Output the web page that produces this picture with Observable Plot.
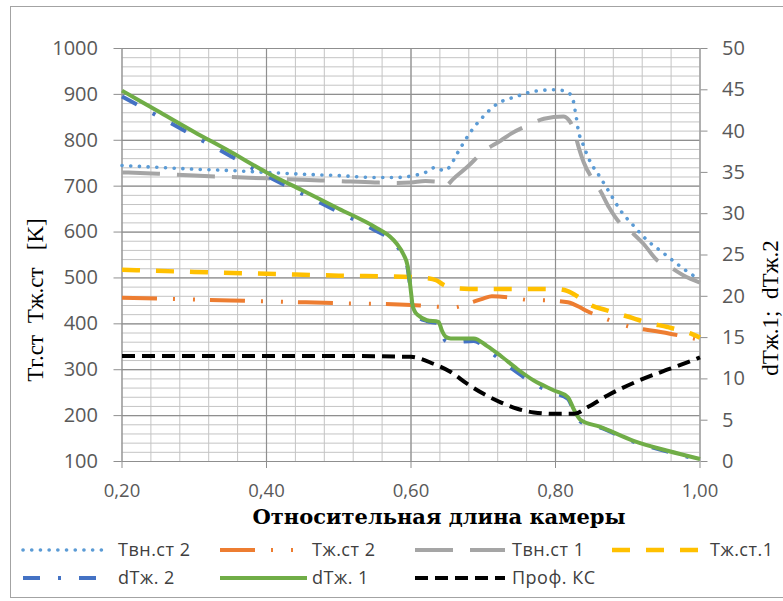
<!DOCTYPE html>
<html><head><meta charset="utf-8">
<script src="https://cdn.jsdelivr.net/npm/d3@7"></script>
<script src="https://cdn.jsdelivr.net/npm/@observablehq/plot@0.6"></script>
<style>
body{margin:0;background:#fff;overflow:hidden;width:783px;height:601px;position:relative;font-family:"Open Sans",sans-serif}
#frame{position:absolute;left:10px;top:6px;width:800px;height:592px;border:1.5px solid #a3a3a3;box-sizing:border-box}
#chart{position:absolute;left:0;top:0}
#legend{position:absolute;left:0;top:536px;width:783px;height:65px}
</style></head><body>
<div id="frame"></div>
<div id="chart"></div>
<div id="legend"></div>
<script>
// ---- data (x = relative chamber length) ----
const tvn2_x = [0.20,0.25,0.30,0.35,0.40,0.45,0.50,0.55,0.58,0.60,0.62,0.634,0.645,0.655,0.661,0.668,0.682,0.699,0.719,0.745,0.772,0.799,0.814,0.823,0.828,0.832,0.837,0.846,0.862,0.876,0.890,0.908,0.927,0.948,0.968,0.991,1.00];
const tvn2_y = [745,741,737,734,730,726,723,719,719,722,730,741,734,745,763,782,817,850,879,895,907,910,907,894,858,818,796,760,719,683,647,614,582,556,531,505,497];

const tzh2_x = [0.20,0.30,0.40,0.50,0.60,0.62,0.64,0.66,0.68,0.70,0.712,0.74,0.763,0.79,0.817,0.835,0.842,0.865,0.887,0.91,0.94,0.97,1.00];
const tzh2_y = [457,453,449,445,441,439,437,436,445,455,460,457,452,451,447,435,429,414,401,391,384,375,365];

const tvn1_x = [0.20,0.25,0.30,0.35,0.40,0.45,0.50,0.55,0.58,0.60,0.62,0.635,0.645,0.66,0.68,0.699,0.724,0.738,0.761,0.784,0.811,0.818,0.825,0.832,0.839,0.851,0.862,0.874,0.890,0.908,0.922,0.941,0.959,0.978,1.00];
const tvn1_y = [730,727,723,720,717,714,711,708,707,708,711,710,698,718,745,774,799,814,832,847,852,845,825,785,752,716,690,654,618,596,574,538,523,505,490];

const tzh1_x = [0.20,0.30,0.40,0.50,0.60,0.62,0.635,0.645,0.66,0.68,0.72,0.76,0.80,0.816,0.835,0.85,0.87,0.88,0.908,0.926,0.955,0.97,0.99,1.00];
const tzh1_y = [518,513,509,505,502,500,495,485,478,476,476,476,476,472,455,440,430,425,412,403,393,387,377,370];

const dT_x  = [0.20,0.25,0.30,0.35,0.40,0.45,0.50,0.55,0.57,0.58,0.59,0.595,0.598,0.60,0.602,0.605,0.61,0.622,0.638,0.643,0.648,0.655,0.687,0.705,0.724,0.747,0.770,0.798,0.817,0.826,0.835,0.862,0.908,0.955,1.00];
const dT1_y = [44.9,42.4,39.9,37.5,35.0,32.8,30.6,28.4,27.3,26.4,25.0,23.8,22.0,20.5,19.0,18.2,17.7,17.1,16.9,15.8,15.1,14.9,14.9,14.0,12.8,11.2,9.8,8.6,7.8,6.2,5.0,4.2,2.5,1.3,0.3];
const dT2_y = [44.2,41.8,39.4,37.0,34.6,32.4,30.2,28.0,27.0,26.1,24.8,23.6,21.8,20.3,18.8,18.0,17.5,17.0,16.7,15.4,14.6,14.4,14.6,13.6,12.3,10.8,9.4,8.3,7.6,6.0,4.8,4.1,2.4,1.2,0.2];

const prof_x = [0.20,0.30,0.40,0.50,0.60,0.631,0.655,0.678,0.701,0.724,0.747,0.77,0.798,0.826,0.844,0.872,0.909,0.946,0.974,1.00];
const prof_y = [330,330,330,330,328,313,295,269,247,229,215,207,204,204,218,244,272,295,311,327];

const xTicks = [0.20,0.40,0.60,0.80,1.00];
const yLeftTicks = [100,200,300,400,500,600,700,800,900,1000];
const yRightTicks = [0,5,10,15,20,25,30,35,40,45,50];

const names = ["Твн.ст 2","Тж.ст 2","Твн.ст 1","Тж.ст.1","dТж. 2","dТж. 1","Проф. КС"];
const colors = ["#5b9bd5","#ed7d31","#a5a5a5","#ffc000","#4472c4","#70ad47","#000000"];

// ---- helpers ----
const toLeft = v => 100 + v * 18; // right axis 0..50 -> left axis 100..1000
const zip = (xs, ys, f = d => d) => xs.map((x, i) => ({x, y: f(ys[i])}));

const styles = [
  {strokeWidth: 3.6, strokeDasharray: "0.1 8.6", strokeLinecap: "round"},
  {strokeWidth: 4, strokeDasharray: "35 16 2 18 2 15", strokeLinecap: "butt"},
  {strokeWidth: 4, strokeDasharray: "38 17", strokeLinecap: "butt"},
  {strokeWidth: 4.5, strokeDasharray: "18 16", strokeLinecap: "butt"},
  {strokeWidth: 4, strokeDasharray: "17 18 3 18", strokeLinecap: "butt"},
  {strokeWidth: 4, strokeDasharray: null, strokeLinecap: "butt"},
  {strokeWidth: 4, strokeDasharray: "13 7", strokeLinecap: "butt"}
];

const seriesData = [
  zip(tvn2_x, tvn2_y),
  zip(tzh2_x, tzh2_y),
  zip(tvn1_x, tvn1_y),
  zip(tzh1_x, tzh1_y),
  zip(dT_x, dT2_y, toLeft),
  zip(dT_x, dT1_y, toLeft),
  zip(prof_x, prof_y)
];

const xMinor = d3.range(0, 21).map(i => 0.2 + i * 0.04);
const yMinor = d3.range(0, 46).map(i => 100 + i * 20);

const lineMarks = seriesData.map((data, i) => Plot.line(data, {
  x: "x", y: "y", curve: "monotone-x", stroke: colors[i],
  strokeWidth: styles[i].strokeWidth,
  strokeDasharray: styles[i].strokeDasharray || undefined,
  strokeLinecap: styles[i].strokeLinecap, strokeLinejoin: "round"
}));

const chart = Plot.plot({
  width: 783, height: 536,
  marginLeft: 121.5, marginRight: 83.5, marginTop: 48, marginBottom: 75,
  style: {fontFamily: "'Open Sans', sans-serif", fontSize: "20px", color: "#595959", background: "transparent", overflow: "visible"},
  x: {domain: [0.2, 1.0], axis: null},
  y: {domain: [100, 1000], axis: null},
  marks: [
    Plot.ruleX(xMinor, {stroke: "#c4c4c4", strokeWidth: 1}),
    Plot.ruleY(yMinor, {stroke: "#c4c4c4", strokeWidth: 1}),
    Plot.ruleX(xTicks, {stroke: "#8f8f8f", strokeWidth: 1.2}),
    Plot.ruleY(yLeftTicks, {stroke: "#8f8f8f", strokeWidth: 1.2}),
    ...lineMarks,
    Plot.axisX(xTicks, {tickSize: 7, tickPadding: 15, stroke: "#8f8f8f", fill: "#595959", fontSize: 18.5,
      tickFormat: d => d.toFixed(2).replace(".", ","), label: null}),
    Plot.axisY(yLeftTicks, {anchor: "left", tickSize: 8, tickPadding: 16, stroke: "#8f8f8f", fill: "#595959",
      tickFormat: d => String(d), label: null}),
    Plot.axisY(yRightTicks.map(toLeft), {anchor: "right", tickSize: 7, tickPadding: 15, stroke: "#8f8f8f", fill: "#595959",
      tickFormat: d => String(Math.round((d - 100) / 18)), label: null}),
    Plot.text(["Тг.ст  Тж.ст   [K]"], {text: d => d, frameAnchor: "left", textAnchor: "middle", dx: -86, dy: 45, rotate: -90,
      fontFamily: "Liberation Serif", fontSize: 23, fill: "#000"}),
    Plot.text(["dТж.1;  dТж.2"], {text: d => d, frameAnchor: "right", textAnchor: "middle", dx: 70.5, dy: 53, rotate: -90,
      fontFamily: "Liberation Serif", fontSize: 23, fill: "#000"}),
    Plot.text(["Относительная длина камеры"], {text: d => d, frameAnchor: "bottom", textAnchor: "middle", dx: 28, dy: 62,
      fontFamily: "DejaVu Serif", fontWeight: "bold", fontSize: 21, fill: "#000"})
  ]
});
document.getElementById("chart").appendChild(chart);

// ---- legend ----
const legendPos = [
  {sx: 23, ex: 108, tx: 118, row: 0},
  {sx: 220, ex: 303, tx: 312, row: 0},
  {sx: 415, ex: 505, tx: 512, row: 0},
  {sx: 612, ex: 700, tx: 710, row: 0},
  {sx: 23, ex: 108, tx: 118, row: 1},
  {sx: 220, ex: 307, tx: 312, row: 1},
  {sx: 415, ex: 505, tx: 512, row: 1}
];
const rowY = [14, 42];
const lsvg = d3.select("#legend").append("svg").attr("width", 783).attr("height", 65);
names.forEach((n, i) => {
  const p = legendPos[i], y = rowY[p.row], s = styles[i];
  lsvg.append("line").attr("x1", p.sx).attr("x2", p.ex).attr("y1", y).attr("y2", y)
    .attr("stroke", colors[i]).attr("stroke-width", s.strokeWidth)
    .attr("stroke-dasharray", s.strokeDasharray).attr("stroke-linecap", s.strokeLinecap);
  lsvg.append("text").attr("x", p.tx).attr("y", y).attr("dy", "0.35em")
    .attr("font-family", "'Open Sans', sans-serif").attr("font-size", 18).attr("letter-spacing", "0.5px").attr("fill", "#404040")
    .text(n);
});
</script>
</body></html>
